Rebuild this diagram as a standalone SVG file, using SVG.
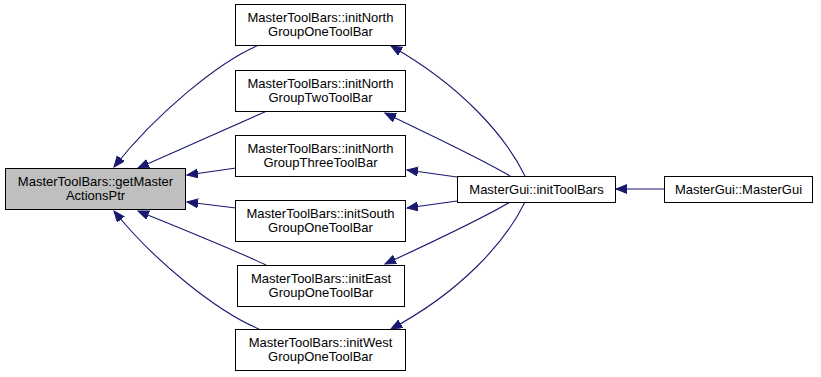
<svg xmlns="http://www.w3.org/2000/svg" width="821" height="377" viewBox="0 0 821 377">
  <style>
    .box { fill: #ffffff; stroke: #000000; stroke-width: 1; }
    .cur { fill: #bfbfbf; }
    .lbl { font-family: "Liberation Sans", Arial, sans-serif; font-size: 13px; fill: #000000; text-anchor: middle; }
    .edge { fill: none; stroke: #191970; stroke-width: 1.1; marker-end: url(#arrow); }
  </style>
  <defs>
    <marker id="arrow" markerUnits="userSpaceOnUse" markerWidth="14" markerHeight="12" refX="11" refY="4.5" orient="auto">
      <path d="M0,0 L11,4.5 L0,9 z" fill="#191970" stroke="#191970" stroke-width="1"/>
    </marker>
  </defs>
  <rect width="821" height="377" fill="#ffffff"/>

  <g id="edges">
    <!-- callers of getMasterActionsPtr -->
    <path class="edge" d="M259,45 C218,62 155,115 114,167"/>
    <path class="edge" d="M267,111 C230,127 180,150 138,168"/>
    <path class="edge" d="M236,168 L187,175"/>
    <path class="edge" d="M236,208 L187,202"/>
    <path class="edge" d="M266,265 C230,248 180,228 138,211"/>
    <path class="edge" d="M259,329 C218,312 155,262 114,211"/>
    <!-- initToolBars calls each group initialiser -->
    <path class="edge" d="M525,176 C505,135 460,85 391,46"/>
    <path class="edge" d="M510,176 C480,158 430,135 385,113"/>
    <path class="edge" d="M457,177 L407,170"/>
    <path class="edge" d="M457,201 L407,208"/>
    <path class="edge" d="M510,202 C480,220 430,243 385,264"/>
    <path class="edge" d="M525,202 C505,243 460,292 391,329"/>
    <!-- constructor calls initToolBars -->
    <path class="edge" d="M664,189 L616,189"/>
  </g>

  <g id="getMasterActionsPtr">
    <rect class="box cur" x="5.5" y="168.5" width="180" height="41"/>
    <text class="lbl" x="95.5" y="185.5">MasterToolBars::getMaster</text>
    <text class="lbl" x="95.5" y="199.5">ActionsPtr</text>
  </g>
  <g id="initNorthGroupOneToolBar">
    <rect class="box" x="235.5" y="4.5" width="170" height="41"/>
    <text class="lbl" x="320.5" y="21.5">MasterToolBars::initNorth</text>
    <text class="lbl" x="320.5" y="35.5">GroupOneToolBar</text>
  </g>
  <g id="initNorthGroupTwoToolBar">
    <rect class="box" x="235.5" y="70.5" width="170" height="41"/>
    <text class="lbl" x="320.5" y="87.5">MasterToolBars::initNorth</text>
    <text class="lbl" x="320.5" y="101.5">GroupTwoToolBar</text>
  </g>
  <g id="initNorthGroupThreeToolBar">
    <rect class="box" x="235.5" y="135.5" width="170" height="41"/>
    <text class="lbl" x="320.5" y="152.5">MasterToolBars::initNorth</text>
    <text class="lbl" x="320.5" y="166.5">GroupThreeToolBar</text>
  </g>
  <g id="initSouthGroupOneToolBar">
    <rect class="box" x="235.5" y="200.5" width="170" height="41"/>
    <text class="lbl" x="320.5" y="217.5">MasterToolBars::initSouth</text>
    <text class="lbl" x="320.5" y="231.5">GroupOneToolBar</text>
  </g>
  <g id="initEastGroupOneToolBar">
    <rect class="box" x="237.5" y="265.5" width="167" height="41"/>
    <text class="lbl" x="321" y="282.5">MasterToolBars::initEast</text>
    <text class="lbl" x="321" y="296.5">GroupOneToolBar</text>
  </g>
  <g id="initWestGroupOneToolBar">
    <rect class="box" x="235.5" y="329.5" width="170" height="41"/>
    <text class="lbl" x="320.5" y="346.5">MasterToolBars::initWest</text>
    <text class="lbl" x="320.5" y="360.5">GroupOneToolBar</text>
  </g>
  <g id="initToolBars">
    <rect class="box" x="457.5" y="176.5" width="158" height="26"/>
    <text class="lbl" x="536.5" y="194">MasterGui::initToolBars</text>
  </g>
  <g id="MasterGui">
    <rect class="box" x="664.5" y="176.5" width="148" height="26"/>
    <text class="lbl" x="738.5" y="194">MasterGui::MasterGui</text>
  </g>
</svg>
